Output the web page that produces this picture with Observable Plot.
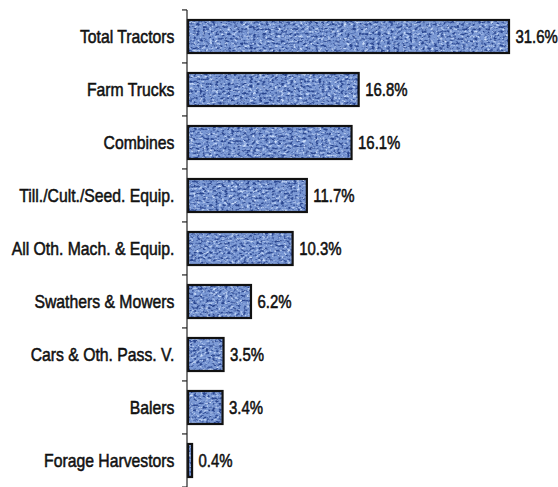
<!DOCTYPE html>
<html>
<head>
<meta charset="utf-8">
<script src="https://cdn.jsdelivr.net/npm/d3@7"></script>
<script src="https://cdn.jsdelivr.net/npm/@observablehq/plot@0.6"></script>
<style>
  html, body { margin: 0; padding: 0; background: #fff; }
  #chart svg { display: block; }
</style>
</head>
<body>
<div id="chart"></div>
<script>
const categories = [
  "Total Tractors",
  "Farm Trucks",
  "Combines",
  "Till./Cult./Seed. Equip.",
  "All Oth. Mach. & Equip.",
  "Swathers & Mowers",
  "Cars & Oth. Pass. V.",
  "Balers",
  "Forage Harvestors"
];
const shares = [31.6, 16.8, 16.1, 11.7, 10.3, 6.2, 3.5, 3.4, 0.4];

const data = categories.map((c, i) => ({category: c, share: shares[i]}));

const FONT = '"Liberation Sans", Arial, sans-serif';
const PAD_IN = 0.38, PAD_OUT = 0.19;
const NARROW = 0.83;

function axisRender(index, scales, values, dimensions, context) {
  const y = scales.y, x = scales.x;
  const step = y(categories[1]) - y(categories[0]);
  const bw = typeof y.bandwidth === "function" ? y.bandwidth() : (y.bandwidth ?? step * (1 - PAD_IN));
  const x0 = x(0) - 1;
  const g = d3.create("svg:g").attr("stroke", "#222").attr("stroke-width", 1.2).attr("fill", "none");
  const bounds = categories.map(c => y(c) - step * PAD_IN / 2);
  const bottom = y(categories[categories.length - 1]) + bw + step * PAD_IN / 2;
  bounds.push(bottom);
  g.append("line").attr("x1", x0).attr("x2", x0).attr("y1", bounds[0]).attr("y2", bottom);
  for (const b of bounds) {
    g.append("line").attr("x1", x0 - 5).attr("x2", x0).attr("y1", b).attr("y2", b);
  }
  return g.node();
}

const plot = Plot.plot({
  width: 558,
  height: 487,
  marginLeft: 188,
  marginRight: 49,
  marginTop: 10,
  marginBottom: 0,
  style: {fontFamily: FONT, fontSize: "18px", color: "#111", background: "#fff", overflow: "visible"},
  x: {domain: [0, 31.6], axis: null},
  y: {domain: categories, paddingInner: PAD_IN, paddingOuter: PAD_OUT, label: null},
  marks: [
    Plot.axisY({tickSize: 0, tickPadding: 14, fontSize: 19, fill: "#111", label: null}),
    Plot.barX(data, {x: "share", y: "category", fill: "#7a98d4", imageFilter: "url(#tex)"}),
    Plot.barX(data, {x: "share", y: "category", fill: "none", stroke: "#111", strokeWidth: 2.2}),
    Plot.text(data, {x: "share", y: "category", text: d => d.share.toFixed(1) + "%", dx: 6, textAnchor: "start", fontSize: 18, fill: "#111"}),
    axisRender
  ]
});

// condensed, slightly heavy type: narrow every text horizontally around its own anchor
plot.querySelectorAll("text").forEach(t => {
  const tr = t.getAttribute("transform");
  if (tr) t.setAttribute("transform", tr + ` scale(${NARROW},1)`);
  else {
    const x = +t.getAttribute("x") || 0, y = +t.getAttribute("y") || 0;
    t.removeAttribute("x"); t.removeAttribute("y");
    t.setAttribute("transform", `translate(${x},${y}) scale(${NARROW},1)`);
  }
  t.style.stroke = "#111";
  t.style.strokeWidth = "0.55px";
});

const defs = d3.create("svg:defs");
defs.html(`
  <filter id="tex" x="-2%" y="-5%" width="104%" height="110%" color-interpolation-filters="sRGB">
    <feTurbulence type="fractalNoise" baseFrequency="0.32 0.42" numOctaves="2" seed="11" result="n"/>
    <feColorMatrix in="n" type="matrix" values="0 0 0 0 0.16  0 0 0 0 0.27  0 0 0 0 0.56  3.6 0 0 0 -1.7" result="dark"/>
    <feColorMatrix in="n" type="matrix" values="0 0 0 0 0.80  0 0 0 0 0.87  0 0 0 0 0.98  0 -3.6 0 0 1.75" result="light"/>
    <feComposite in="dark" in2="SourceGraphic" operator="in" result="d2"/>
    <feComposite in="light" in2="SourceGraphic" operator="in" result="l2"/>
    <feMerge><feMergeNode in="SourceGraphic"/><feMergeNode in="l2"/><feMergeNode in="d2"/></feMerge>
  </filter>`);
plot.insertBefore(defs.node(), plot.firstChild);
document.getElementById("chart").appendChild(plot);
</script>
</body>
</html>
